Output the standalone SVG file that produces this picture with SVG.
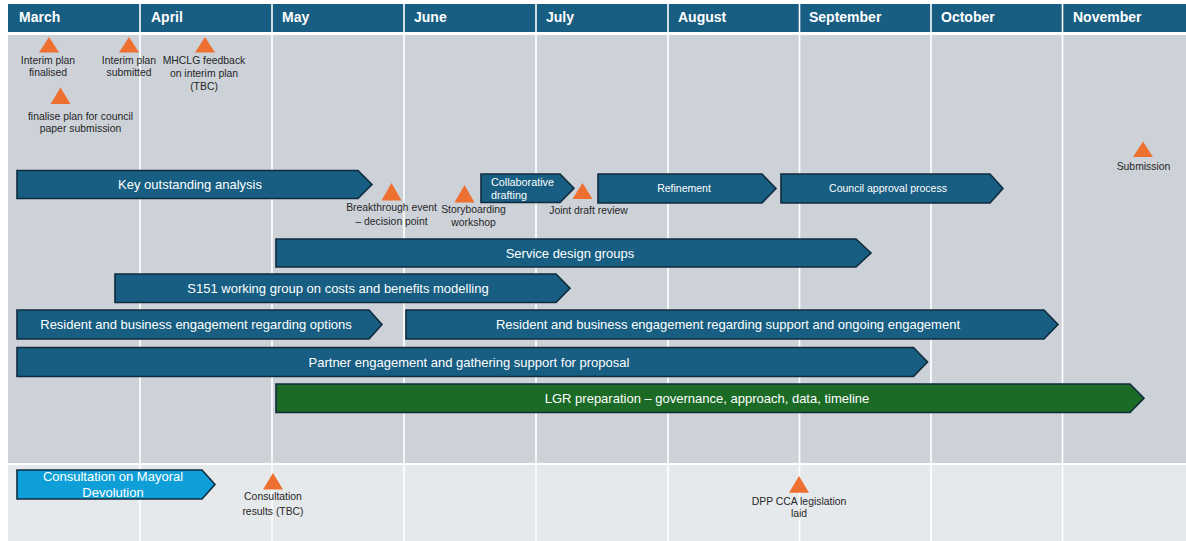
<svg xmlns="http://www.w3.org/2000/svg" width="1186" height="541" viewBox="0 0 1186 541">
<style>
.month{font-family:"Liberation Sans",Arial,sans-serif;font-weight:bold;font-size:14px;fill:#ffffff}
.bar{fill:#175E82;stroke:#0F2B3C;stroke-width:1.6}
.green{fill:#1B6B26;stroke:#0F2B3C;stroke-width:1.6}
.light{fill:#0E9FD8;stroke:#0F2B3C;stroke-width:1.6}
.bt{font-family:"Liberation Sans",Arial,sans-serif;font-size:13px;fill:#ffffff;text-anchor:middle}
.bts{font-family:"Liberation Sans",Arial,sans-serif;font-size:10.8px;fill:#ffffff}
.ms{fill:#ED7031}
.lbl{font-family:"Liberation Sans",Arial,sans-serif;font-size:10.4px;fill:#262626;text-anchor:middle}
.sep{stroke:#ffffff;stroke-width:1.6}
</style>
<rect x="0" y="0" width="1186" height="541" fill="#ffffff"/>
<g id="background">
<rect x="8" y="4" width="1178" height="28" fill="#175E82"/>
<rect x="8" y="35" width="1178" height="428" fill="#CDD2D9"/>
<rect x="8" y="465" width="1178" height="76" fill="#E6E9EC"/>
<g class="sep">
<line x1="140" y1="4" x2="140" y2="541"/>
<line x1="272" y1="4" x2="272" y2="541"/>
<line x1="404" y1="4" x2="404" y2="541"/>
<line x1="536" y1="4" x2="536" y2="541"/>
<line x1="668" y1="4" x2="668" y2="541"/>
<line x1="799.5" y1="4" x2="799.5" y2="541"/>
<line x1="931" y1="4" x2="931" y2="541"/>
<line x1="1062.5" y1="4" x2="1062.5" y2="541"/>
</g>
<text class="month" x="19" y="22">March</text>
<text class="month" x="151" y="22">April</text>
<text class="month" x="282" y="22">May</text>
<text class="month" x="414" y="22">June</text>
<text class="month" x="546" y="22">July</text>
<text class="month" x="678" y="22">August</text>
<text class="month" x="809" y="22">September</text>
<text class="month" x="941" y="22">October</text>
<text class="month" x="1073" y="22">November</text>
</g>
<g id="connectors"></g>
<g id="bar-key">
<path class="bar" d="M17 170.5H358L372 184.5L358 198.5H17Z"/>
<text class="bt" x="190" y="189">Key outstanding analysis</text>
</g>
<g id="bar-collab">
<path class="bar" d="M481 174H560L574 188.2L560 202.5H481Z"/>
<text class="bts" x="491" y="185.5">Collaborative</text>
<text class="bts" x="491" y="198.5">drafting</text>
</g>
<g id="bar-refinement">
<path class="bar" d="M598 174H762L776 188.5L762 203H598Z"/>
<text class="bt" x="684" y="192" style="font-size:10.5px">Refinement</text>
</g>
<g id="bar-council">
<path class="bar" d="M781 174H990L1003 188.5L990 203H781Z"/>
<text class="bt" x="888" y="192" style="font-size:10.5px">Council approval process</text>
</g>
<g id="bar-service">
<path class="bar" d="M276 239H856L871 253L856 267H276Z"/>
<text class="bt" x="570" y="257.5">Service design groups</text>
</g>
<g id="bar-s151">
<path class="bar" d="M115 274H556L570 288.2L556 302.5H115Z"/>
<text class="bt" x="338" y="292.5">S151 working group on costs and benefits modelling</text>
</g>
<g id="bar-res-options">
<path class="bar" d="M17 310H369L382 324.5L369 339H17Z"/>
<text class="bt" x="196" y="329">Resident and business engagement regarding options</text>
</g>
<g id="bar-res-support">
<path class="bar" d="M406 310H1044L1058 324.5L1044 339H406Z"/>
<text class="bt" x="728" y="329">Resident and business engagement regarding support and ongoing engagement</text>
</g>
<g id="bar-partner">
<path class="bar" d="M17 347.5H913.5L927.5 362L913.5 376.5H17Z"/>
<text class="bt" x="469" y="366.5">Partner engagement and gathering support for proposal</text>
</g>
<g id="bar-lgr">
<path class="green" d="M276 384H1130L1144 398.2L1130 412.5H276Z"/>
<text class="bt" x="707" y="402.5">LGR preparation – governance, approach, data, timeline</text>
</g>
<g id="bar-consultation">
<path class="light" d="M17 470H202L215 484.5L202 499H17Z"/>
<text class="bt" x="113" y="481">Consultation on Mayoral</text>
<text class="bt" x="113" y="497">Devolution</text>
</g>
<g id="ms-interim-finalised">
<path class="ms" d="M39 52.5L49 37L59 52.5Z"/>
<text class="lbl" x="48" y="64">Interim plan</text>
<text class="lbl" x="48" y="76">finalised</text>
</g>
<g id="ms-interim-submitted">
<path class="ms" d="M119 52.5L129 37L139 52.5Z"/>
<text class="lbl" x="129" y="64">Interim plan</text>
<text class="lbl" x="129" y="76">submitted</text>
</g>
<g id="ms-mhclg">
<path class="ms" d="M195 52.5L205 37L215 52.5Z"/>
<text class="lbl" x="204" y="64">MHCLG feedback</text>
<text class="lbl" x="204" y="77">on interim plan</text>
<text class="lbl" x="204" y="90">(TBC)</text>
</g>
<g id="ms-council-paper">
<path class="ms" d="M50.5 104L60.5 87.5L70.5 104Z"/>
<text class="lbl" x="80.5" y="120">finalise plan for council</text>
<text class="lbl" x="80.5" y="132">paper submission</text>
</g>
<g id="ms-submission">
<path class="ms" d="M1133 157L1143 141.5L1153 157Z"/>
<text class="lbl" x="1143.5" y="170">Submission</text>
</g>
<g id="ms-breakthrough">
<path class="ms" d="M381.5 200.5L391.5 183L401.5 200.5Z"/>
<text class="lbl" x="391.5" y="211">Breakthrough event</text>
<text class="lbl" x="391.5" y="224.5">– decision point</text>
</g>
<g id="ms-storyboarding">
<path class="ms" d="M454.5 202.5L464.5 185L474.5 202.5Z"/>
<text class="lbl" x="473.5" y="213">Storyboarding</text>
<text class="lbl" x="473.5" y="226">workshop</text>
</g>
<g id="ms-joint-review">
<path class="ms" d="M572.5 199L582.5 183L592.5 199Z"/>
<text class="lbl" x="588.5" y="214">Joint draft review</text>
</g>
<g id="ms-consultation-results">
<path class="ms" d="M263 489.5L273 473L283 489.5Z"/>
<text class="lbl" x="273" y="500">Consultation</text>
<text class="lbl" x="273" y="515">results (TBC)</text>
</g>
<g id="ms-dpp">
<path class="ms" d="M789 492.7L799 476L809 492.7Z"/>
<text class="lbl" x="799" y="504.5">DPP CCA legislation</text>
<text class="lbl" x="799" y="517">laid</text>
</g>
</svg>
